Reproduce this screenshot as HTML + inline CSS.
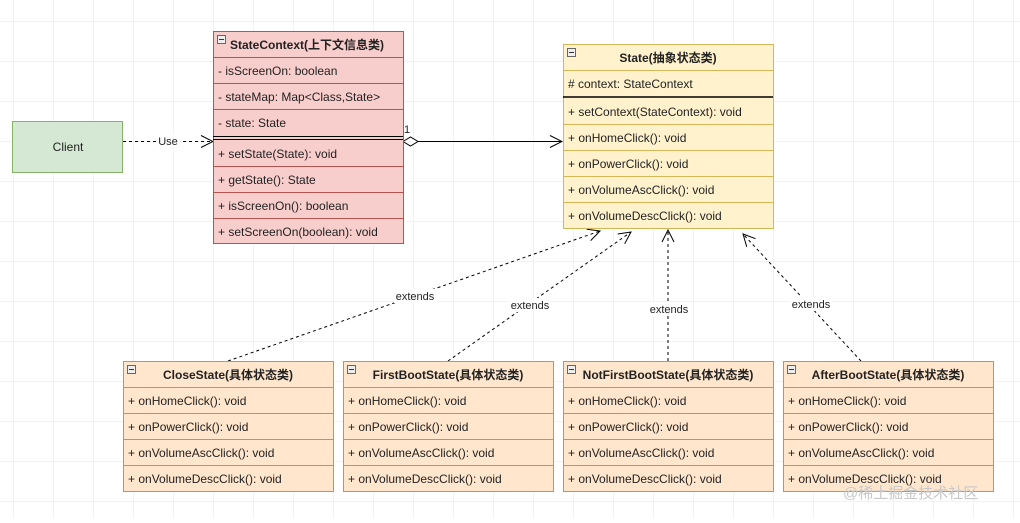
<!DOCTYPE html>
<html><head><meta charset="utf-8"><style>
body{margin:0;background:#fff}
svg text{font-family:"Liberation Sans","Noto Sans CJK SC",sans-serif;font-size:12px;fill:#222}
.b{font-weight:bold}
</style></head><body>
<svg width="1020" height="518" xmlns="http://www.w3.org/2000/svg">
<defs>
<pattern id="g" x="13" y="21" width="40" height="40" patternUnits="userSpaceOnUse">
<path d="M0 0H40M0 0V40" stroke="#e6e6e6" stroke-width="1" fill="none"/>
</pattern>
<marker id="oa" markerWidth="14" markerHeight="14" refX="13" refY="7" orient="auto" markerUnits="userSpaceOnUse">
<path d="M1 1L13 7L1 13" fill="none" stroke="#000" stroke-width="1"/>
</marker>
</defs>
<rect width="1020" height="518" fill="url(#g)"/>

<rect x="12.5" y="121.5" width="110" height="51" fill="#d5e8d4" stroke="#82b366"/>
<text x="68" y="151" text-anchor="middle">Client</text>

<line x1="123" y1="141.5" x2="213" y2="141.5" stroke="#000" stroke-dasharray="3,3" marker-end="url(#oa)"/>
<rect x="156" y="134" width="24" height="14" fill="#fff"/>
<text x="168" y="145" text-anchor="middle" style="font-size:11px">Use</text>

<line x1="418" y1="141.5" x2="562" y2="141.5" stroke="#000" marker-end="url(#oa)"/>
<path d="M403 141.5L410.5 137L418 141.5L410.5 146Z" fill="#fff" stroke="#000"/>
<text x="404" y="133" style="font-size:11px">1</text>

<line x1="228" y1="361" x2="600" y2="231" stroke="#000" stroke-dasharray="3,3" marker-end="url(#oa)"/>
<line x1="448" y1="361" x2="631" y2="232" stroke="#000" stroke-dasharray="3,3" marker-end="url(#oa)"/>
<line x1="668" y1="361" x2="668" y2="230" stroke="#000" stroke-dasharray="3,3" marker-end="url(#oa)"/>
<line x1="861" y1="361" x2="743" y2="234" stroke="#000" stroke-dasharray="3,3" marker-end="url(#oa)"/>
<rect x="394" y="289" width="42" height="14" fill="#fff"/><text x="415" y="300" text-anchor="middle" style="font-size:11px">extends</text>
<rect x="509" y="298" width="42" height="14" fill="#fff"/><text x="530" y="309" text-anchor="middle" style="font-size:11px">extends</text>
<rect x="648" y="302" width="42" height="14" fill="#fff"/><text x="669" y="313" text-anchor="middle" style="font-size:11px">extends</text>
<rect x="790" y="297" width="42" height="14" fill="#fff"/><text x="811" y="308" text-anchor="middle" style="font-size:11px">extends</text>

<g stroke="#b85450" fill="#f8cecc">
<rect x="213.5" y="31.5" width="190" height="212"/>
<line x1="213" y1="57.5" x2="403" y2="57.5"/>
<line x1="213" y1="83.5" x2="403" y2="83.5"/>
<line x1="213" y1="109.5" x2="403" y2="109.5"/>
<line x1="213" y1="166.5" x2="403" y2="166.5"/>
<line x1="213" y1="192.5" x2="403" y2="192.5"/>
<line x1="213" y1="218.5" x2="403" y2="218.5"/>
</g>
<line x1="213" y1="136.5" x2="403" y2="136.5" stroke="#000"/>
<line x1="213" y1="139.5" x2="403" y2="139.5" stroke="#000"/>
<rect x="217.5" y="35.5" width="8" height="8" fill="#eee" stroke="#666"/><line x1="219" y1="39.5" x2="224" y2="39.5" stroke="#333"/>
<text x="230" y="49" class="b">StateContext(上下文信息类)</text>
<text x="218" y="75">- isScreenOn: boolean</text>
<text x="218" y="101">- stateMap: Map&lt;Class,State&gt;</text>
<text x="218" y="127">- state: State</text>
<text x="218" y="158">+ setState(State): void</text>
<text x="218" y="184">+ getState(): State</text>
<text x="218" y="210">+ isScreenOn(): boolean</text>
<text x="218" y="236">+ setScreenOn(boolean): void</text>

<g stroke="#d6b656" fill="#fff2cc">
<rect x="563.5" y="44.5" width="210" height="184"/>
<line x1="563" y1="70.5" x2="773" y2="70.5"/>
<line x1="563" y1="124.5" x2="773" y2="124.5"/>
<line x1="563" y1="150.5" x2="773" y2="150.5"/>
<line x1="563" y1="176.5" x2="773" y2="176.5"/>
<line x1="563" y1="202.5" x2="773" y2="202.5"/>
</g>
<line x1="563" y1="97" x2="773" y2="97" stroke="#000" stroke-width="1.5"/>
<rect x="567.5" y="48.5" width="8" height="8" fill="#eee" stroke="#666"/><line x1="569" y1="52.5" x2="574" y2="52.5" stroke="#333"/>
<text x="668" y="62" text-anchor="middle" class="b">State(抽象状态类)</text>
<text x="568" y="88"># context: StateContext</text>
<text x="568" y="116">+ setContext(StateContext): void</text>
<text x="568" y="142">+ onHomeClick(): void</text>
<text x="568" y="168">+ onPowerClick(): void</text>
<text x="568" y="194">+ onVolumeAscClick(): void</text>
<text x="568" y="220">+ onVolumeDescClick(): void</text>

<g stroke="#d79b00" fill="#ffe6cc">
<rect x="123.5" y="361.5" width="210" height="130"/>
<rect x="343.5" y="361.5" width="210" height="130"/>
<rect x="563.5" y="361.5" width="210" height="130"/>
<rect x="783.5" y="361.5" width="210" height="130"/>
<path d="M123 387.5H333M123 413.5H333M123 439.5H333M123 465.5H333"/>
<path d="M343 387.5H553M343 413.5H553M343 439.5H553M343 465.5H553"/>
<path d="M563 387.5H773M563 413.5H773M563 439.5H773M563 465.5H773"/>
<path d="M783 387.5H993M783 413.5H993M783 439.5H993M783 465.5H993"/>
</g>
<g fill="#eee" stroke="#666">
<rect x="127.5" y="365.5" width="8" height="8"/><rect x="347.5" y="365.5" width="8" height="8"/><rect x="567.5" y="365.5" width="8" height="8"/><rect x="787.5" y="365.5" width="8" height="8"/>
</g>
<path d="M129 369.5h5M349 369.5h5M569 369.5h5M789 369.5h5" stroke="#333"/>
<text x="228" y="379" text-anchor="middle" class="b">CloseState(具体状态类)</text>
<text x="448" y="379" text-anchor="middle" class="b">FirstBootState(具体状态类)</text>
<text x="668" y="379" text-anchor="middle" class="b">NotFirstBootState(具体状态类)</text>
<text x="888" y="379" text-anchor="middle" class="b">AfterBootState(具体状态类)</text>
<g>
<text x="128" y="405">+ onHomeClick(): void</text><text x="128" y="431">+ onPowerClick(): void</text><text x="128" y="457">+ onVolumeAscClick(): void</text><text x="128" y="483">+ onVolumeDescClick(): void</text>
<text x="348" y="405">+ onHomeClick(): void</text><text x="348" y="431">+ onPowerClick(): void</text><text x="348" y="457">+ onVolumeAscClick(): void</text><text x="348" y="483">+ onVolumeDescClick(): void</text>
<text x="568" y="405">+ onHomeClick(): void</text><text x="568" y="431">+ onPowerClick(): void</text><text x="568" y="457">+ onVolumeAscClick(): void</text><text x="568" y="483">+ onVolumeDescClick(): void</text>
<text x="788" y="405">+ onHomeClick(): void</text><text x="788" y="431">+ onPowerClick(): void</text><text x="788" y="457">+ onVolumeAscClick(): void</text><text x="788" y="483">+ onVolumeDescClick(): void</text>
</g>
<text x="843" y="498" style="font-size:15px;fill:#c8c8c8">@稀土掘金技术社区</text>
</svg>
</body></html>
